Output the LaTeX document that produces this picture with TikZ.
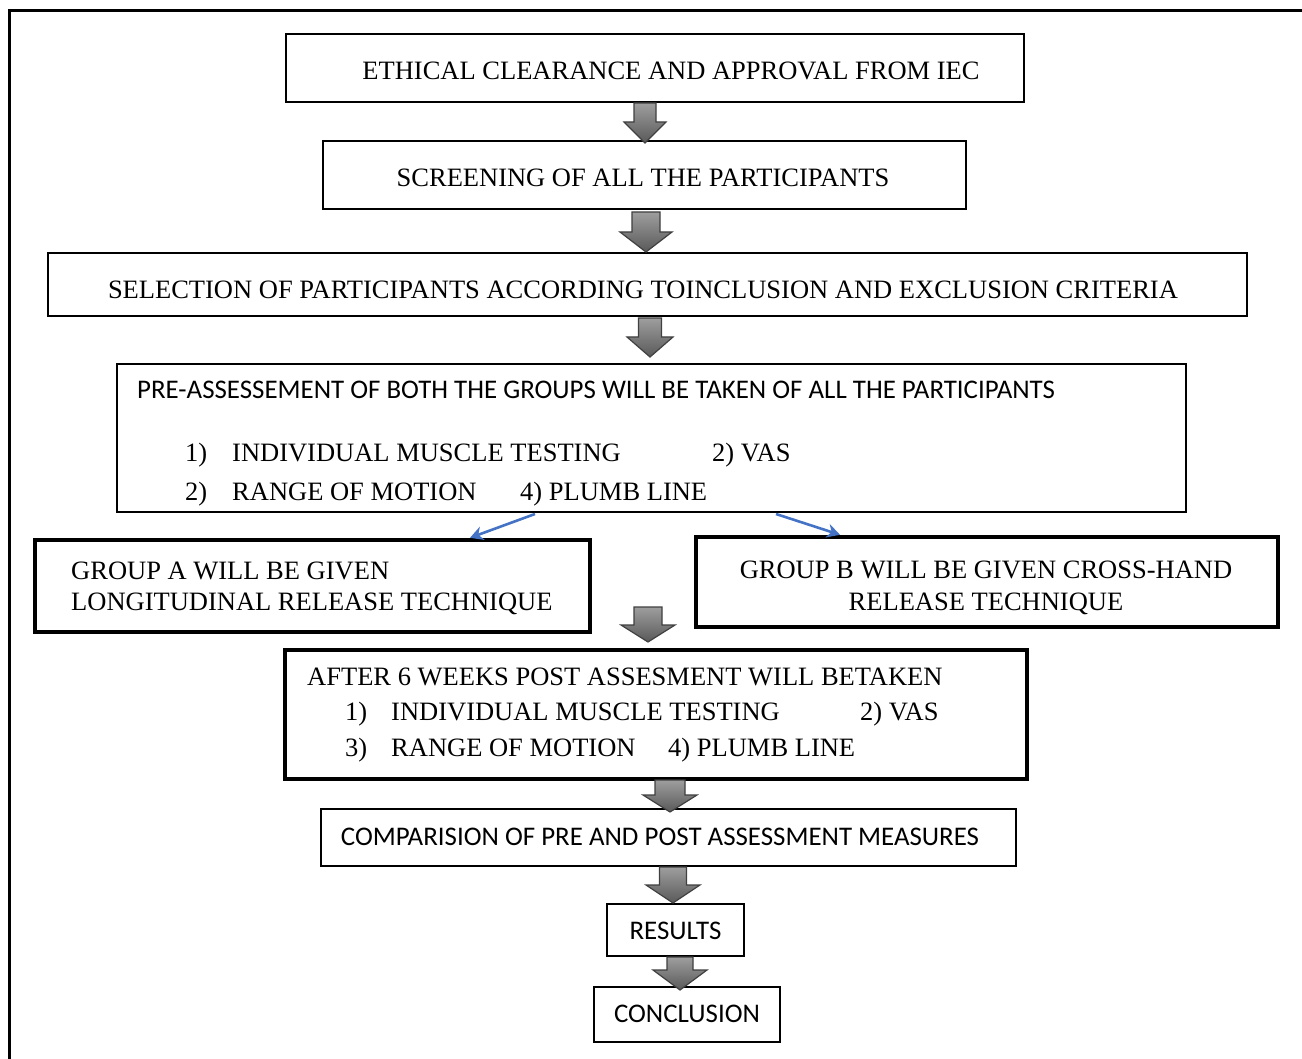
\documentclass[tikz,border=0pt]{standalone}
\usepackage{fontspec}
\setmainfont{Liberation Serif}
\newfontfamily\carlitofont{Carlito}
\usetikzlibrary{arrows.meta}
\definecolor{arrblue}{HTML}{4472C4}
\tikzset{
  thinbox/.style={draw=black, line width=2.4pt, inner sep=0pt, fill=none},
  thickbox/.style={draw=black, line width=4.4pt, inner sep=0pt},
  txt/.style={inner sep=0pt, anchor=base west, font=\fontsize{26.5}{30}\selectfont},
  ctxt/.style={inner sep=0pt, anchor=base, font=\fontsize{26.5}{30}\selectfont},
  stxt/.style={inner sep=0pt, anchor=base west, font=\carlitofont\fontsize{26.9}{30}\selectfont},
  sctxt/.style={inner sep=0pt, anchor=base, font=\carlitofont\fontsize{26.9}{30}\selectfont},
  blk/.style={draw=black!75, line width=1.2pt, top color=black!38, bottom color=black!65, line join=miter},
  bluearrow/.style={draw=arrblue, line width=2.6pt, -{Stealth[length=13pt,width=14pt]}}
}
% #1 cx, #2 top, #3 head start, #4 tip, #5 shaft half, #6 head half
\newcommand\blkarrow[6]{%
  \path[blk] (#1-#5,#2) -- (#1+#5,#2) -- (#1+#5,#3) -- (#1+#6,#3) -- (#1,#4) -- (#1-#6,#3) -- (#1-#5,#3) -- cycle;}
\begin{document}
\begin{tikzpicture}[x=1pt,y=-1pt]
\useasboundingbox (0,0) rectangle (1302,1059);
\fill[white] (0,0) rectangle (1302,1059);
% outer frame (partial)
\coordinate (fb) at (9.5,1059);
\coordinate (fc) at (9.5,11);
\coordinate (fr) at (1302,11);
\draw[line width=3pt] (fb) -- (fc) -- (fr);

% boxes
\node[thinbox, minimum width=738pt, minimum height=68pt] (b1) at (655,68) {};
\node[thinbox, minimum width=643pt, minimum height=68pt] (b2) at (644.5,175) {};
\node[thinbox, minimum width=1199pt, minimum height=63pt] (b3) at (647.5,284.5) {};
\node[thinbox, minimum width=1069pt, minimum height=148pt] (b4) at (651.5,438) {};
\node[thickbox, minimum width=555pt, minimum height=92pt] (ga) at (312.5,586) {};
\node[thickbox, minimum width=582pt, minimum height=90pt] (gb) at (987,582) {};
\node[thickbox, minimum width=742pt, minimum height=129pt] (post) at (656,714.5) {};
\node[thinbox, minimum width=695pt, minimum height=57pt] (cmp) at (668.5,837.5) {};
\node[thinbox, minimum width=137pt, minimum height=52pt] (res) at (675.5,930) {};
\node[thinbox, minimum width=186pt, minimum height=55pt] (con) at (687,1014.5) {};

% texts
\node[ctxt] (t1) at (671,80) {ETHICAL CLEARANCE AND APPROVAL FROM IEC};
\node[ctxt] (t2) at (643,187) {SCREENING OF ALL THE PARTICIPANTS};
\node[ctxt] (t3) at (643,299) {SELECTION OF PARTICIPANTS ACCORDING TOINCLUSION AND EXCLUSION CRITERIA};
\node[stxt] (t4a) at (137,398.5) {PRE-ASSESSEMENT OF BOTH THE GROUPS WILL BE TAKEN OF ALL THE PARTICIPANTS};
\node[txt] (t4b) at (185,461) {1)};
\node[txt] (t4c) at (232,461) {INDIVIDUAL MUSCLE TESTING};
\node[txt] (t4d) at (712,461) {2) VAS};
\node[txt] (t4e) at (185,500) {2)};
\node[txt] (t4f) at (232,500) {RANGE OF MOTION};
\node[txt] (t4g) at (520,500) {4) PLUMB LINE};
\node[txt] (ta1) at (71,579) {GROUP A WILL BE GIVEN};
\node[txt] (ta2) at (71,610) {LONGITUDINAL RELEASE TECHNIQUE};
\node[ctxt] (tb1) at (986,578) {GROUP B WILL BE GIVEN CROSS-HAND};
\node[ctxt] (tb2) at (986,610) {RELEASE TECHNIQUE};
\node[txt] (tp1) at (307,685) {AFTER 6 WEEKS POST ASSESMENT WILL BETAKEN};
\node[txt] (tp2) at (345,720) {1)};
\node[txt] (tp3) at (391,720) {INDIVIDUAL MUSCLE TESTING};
\node[txt] (tp4) at (860,720) {2) VAS};
\node[txt] (tp5) at (345,756) {3)};
\node[txt] (tp6) at (391,756) {RANGE OF MOTION};
\node[txt] (tp7) at (668,756) {4) PLUMB LINE};
\node[sctxt] (tc) at (660,845) {COMPARISION OF PRE AND POST ASSESSMENT MEASURES};
\node[sctxt] (tr) at (675.5,939) {RESULTS};
\node[sctxt] (tcn) at (687,1022) {CONCLUSION};

% block arrows
\blkarrow{645}{103}{122}{143}{11}{21}
\blkarrow{646}{212}{232}{252}{14}{26}
\blkarrow{650}{318}{337}{357}{11.5}{23}
\blkarrow{648}{607}{625}{642}{14}{27}
\blkarrow{670}{780}{795}{812}{15}{27}
\blkarrow{673}{867}{885}{903}{13.5}{27}
\blkarrow{680}{957}{970}{990}{13}{27}

% blue arrows
\coordinate (bl1) at (535,514);
\coordinate (bl2) at (776,514);
\draw[bluearrow] (bl1) -- (ga.north -| 470,0);
\draw[bluearrow] (bl2) -- (gb.north -| 840,0);
\end{tikzpicture}
\end{document}
